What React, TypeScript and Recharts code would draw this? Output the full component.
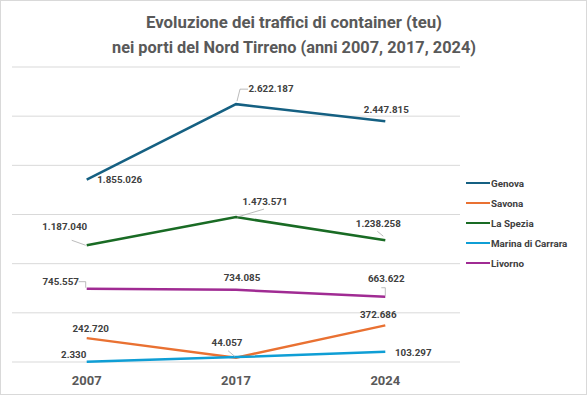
import { CartesianGrid, Line, LineChart, XAxis, YAxis } from "recharts";

const years = ["2007", "2017", "2024"];
const genova = [1855026, 2622187, 2447815];
const savona = [242720, 44057, 372686];
const laSpezia = [1187040, 1473571, 1238258];
const marinaDiCarrara = [2330, 50000, 103297];
const livorno = [745557, 734085, 663622];
const yTicks = [0, 500000, 1000000, 1500000, 2000000, 2500000, 3000000];

type Place = { dx: number; dy: number; leader?: number[][] } | null;

const series: { key: string; name: string; color: string; values: number[]; places: Place[] }[] = [
  {
    key: "genova",
    name: "Genova",
    color: "#156082",
    values: genova,
    places: [
      { dx: 33, dy: 0 },
      { dx: 35, dy: -16, leader: [[1, -3], [4, -15], [12, -15]] },
      { dx: 1, dy: -12 },
    ],
  },
  {
    key: "savona",
    name: "Savona",
    color: "#E97132",
    values: savona,
    places: [
      { dx: 4, dy: -10 },
      { dx: -9, dy: -15, leader: [[-8, -7], [-1, -1]] },
      { dx: -7, dy: -11 },
    ],
  },
  {
    key: "laSpezia",
    name: "La Spezia",
    color: "#196B24",
    values: laSpezia,
    places: [
      { dx: -22, dy: -19, leader: [[-15, -5], [-1, 0]] },
      { dx: 29, dy: -16, leader: [[1, 0], [28, -8]] },
      { dx: -7, dy: -17, leader: [[-8, -9], [-2, -4]] },
    ],
  },
  {
    key: "marina",
    name: "Marina di Carrara",
    color: "#0F9ED5",
    values: marinaDiCarrara,
    places: [{ dx: -13, dy: -7 }, null, { dx: 28, dy: 1 }],
  },
  {
    key: "livorno",
    name: "Livorno",
    color: "#A02B93",
    values: livorno,
    places: [
      { dx: -26, dy: -7, leader: [[-8, -7], [-1, -7], [-1, -1]] },
      { dx: 6, dy: -12 },
      { dx: 1, dy: -18, leader: [[-4, -9], [0, -9], [0, -1]] },
    ],
  },
];

const data = years.map((year, i) => {
  const row: Record<string, string | number> = { year };
  series.forEach((s) => (row[s.key] = s.values[i]));
  return row;
});

const fmt = (n: number) => String(n).replace(/\B(?=(\d{3})+(?!\d))/g, ".");
const FONT = "Roboto, 'Noto Sans', sans-serif";

function makeLabel(places: Place[]) {
  return (p: any) => {
    const place = places[p.index];
    if (!place || p.x == null || p.y == null) return <g key={p.index} />;
    const { x, y } = p;
    return (
      <g key={p.index}>
        {place.leader && (
          <polyline
            points={place.leader.map(([a, b]) => `${x + a},${y + b}`).join(" ")}
            fill="none"
            stroke="#a6a6a6"
            strokeWidth={0.75}
          />
        )}
        <text
          x={x + place.dx}
          y={y + place.dy}
          textAnchor="middle"
          dominantBaseline="central"
          fontSize={9.8}
          fontWeight={700}
          fill="#404040"
          fontFamily={FONT}
        >
          {fmt(Number(p.value))}
        </text>
      </g>
    );
  };
}

export default function App() {
  return (
    <div
      style={{
        position: "absolute",
        left: 0,
        top: 0,
        width: 587,
        height: 395,
        border: "1px solid #d9d9d9",
        boxSizing: "border-box",
        background: "#fff",
        fontFamily: FONT,
      }}
    >
      <svg width={587} height={60} style={{ position: "absolute", left: -1, top: -1 }}>
        <text x={294} y={22} textAnchor="middle" dominantBaseline="central" fontSize={17} fontWeight={700} fill="#595959" textLength={296} lengthAdjust="spacingAndGlyphs">
          Evoluzione dei traffici di container (teu)
        </text>
        <text x={294} y={47} textAnchor="middle" dominantBaseline="central" fontSize={17} fontWeight={700} fill="#595959" textLength={364} lengthAdjust="spacingAndGlyphs">
          nei porti del Nord Tirreno (anni 2007, 2017, 2024)
        </text>
      </svg>
      <div style={{ position: "absolute", left: -1, top: -1 }}>
        <LineChart width={587} height={395} data={data} margin={{ top: 67, right: 127, bottom: 3, left: 12 }}>
          <CartesianGrid vertical={false} stroke="#d9d9d9" strokeWidth={1} />
          <XAxis
            dataKey="year"
            height={30}
            axisLine={false}
            tickLine={false}
            padding={{ left: 74.7, right: 74.7 }}
            tick={{ fontSize: 13, fontWeight: 700, fill: "#595959", fontFamily: FONT }}
            dy={6}
          />
          <YAxis hide width={0} domain={[0, 3000000]} ticks={yTicks} />
          {series.map((s) => (
            <Line
              key={s.key}
              dataKey={s.key}
              name={s.name}
              stroke={s.color}
              strokeWidth={2.5}
              dot={false}
              activeDot={false}
              isAnimationActive={false}
              label={makeLabel(s.places)}
            />
          ))}
        </LineChart>
      </div>
      <div style={{ position: "absolute", left: 465, top: 172 }}>
        {series.map((s) => (
          <div key={s.key} style={{ display: "flex", alignItems: "center", height: 20 }}>
            <div style={{ width: 24, height: 2.5, background: s.color }} />
            <span style={{ fontSize: 9.8, fontWeight: 700, color: "#404040", marginLeft: 1 }}>{s.name}</span>
          </div>
        ))}
      </div>
    </div>
  );
}
